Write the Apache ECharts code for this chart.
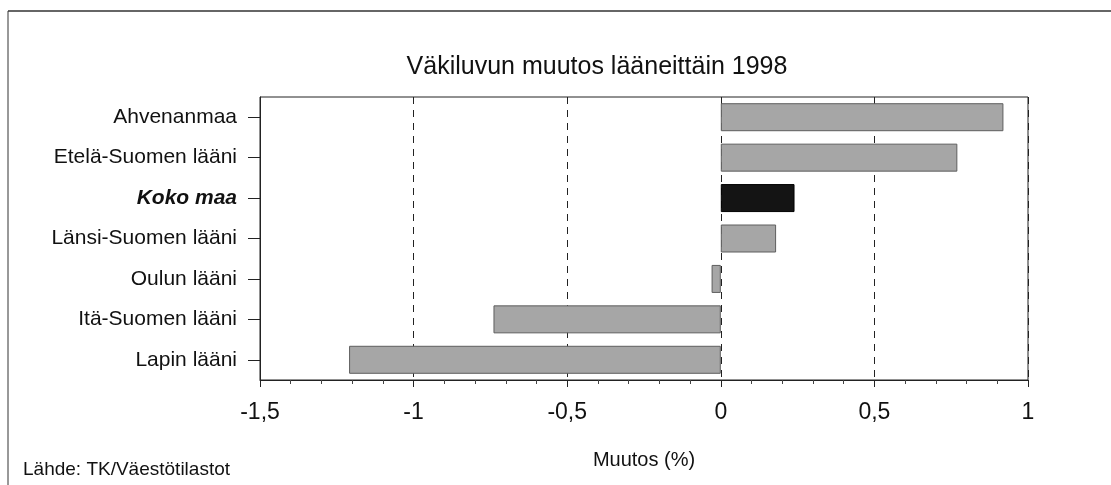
<!DOCTYPE html>
<html>
<head>
<meta charset="utf-8">
<script src="https://cdn.jsdelivr.net/npm/echarts@6/dist/echarts.min.js"></script>
<style>
  html, body { margin: 0; padding: 0; background: #fff; }
  #chart { width: 1111px; height: 485px; }
</style>
</head>
<body>
<div id="chart"></div>
<script>
// Population change by province, 1998 (%)
const regions = ['Ahvenanmaa', 'Etelä-Suomen lääni', 'Koko maa', 'Länsi-Suomen lääni', 'Oulun lääni', 'Itä-Suomen lääni', 'Lapin lääni'];
const changes = [0.92, 0.77, 0.24, 0.18, -0.03, -0.74, -1.21];
const highlighted = 'Koko maa';
const xTicks = [-1.5, -1, -0.5, 0, 0.5, 1];

const FONT = '"Liberation Sans", Arial, sans-serif';
const chart = echarts.init(document.getElementById('chart'), null, { renderer: 'canvas' });

chart.setOption({
  backgroundColor: '#ffffff',
  animation: false,
  title: {
    text: 'Väkiluvun muutos lääneittäin 1998',
    left: 592, top: 50, textAlign: 'center',
    textStyle: { fontFamily: FONT, fontSize: 25, fontWeight: 'normal', color: '#111' }
  },
  grid: { left: 260, right: 83, top: 97, bottom: 105, show: true, borderColor: '#222', borderWidth: 1 },
  xAxis: {
    type: 'value',
    min: xTicks[0], max: xTicks[xTicks.length - 1], interval: 0.5,
    axisLine: { show: true, lineStyle: { color: '#222', width: 1 } },
    axisTick: { show: true, length: 7, lineStyle: { color: '#222' } },
    minorTick: { show: true, splitNumber: 5, length: 4, lineStyle: { color: '#444' } },
    splitLine: { show: true, lineStyle: { color: '#222', type: [7, 6], width: 1 } },
    axisLabel: {
      margin: 21, fontFamily: FONT, fontSize: 23, color: '#111',
      formatter: v => String(v).replace('.', ',')
    },
    name: 'Muutos (%)', nameLocation: 'middle', nameGap: 70,
    nameTextStyle: { fontFamily: FONT, fontSize: 20, color: '#111' }
  },
  yAxis: {
    type: 'category', inverse: true, data: regions,
    axisLine: { show: true, onZero: false, lineStyle: { color: '#222', width: 1 } },
    axisTick: { show: true, alignWithLabel: true, length: 12, lineStyle: { color: '#222' } },
    axisLabel: {
      margin: 23, fontFamily: FONT, fontSize: 21, color: '#111',
      formatter: v => v === highlighted ? '{hl|' + v + '}' : v,
      rich: { hl: { fontFamily: FONT, fontSize: 21, fontWeight: 'bold', fontStyle: 'italic', color: '#111' } }
    }
  },
  series: [{
    type: 'bar',
    barWidth: 28,
    data: regions.map((r, i) => ({
      value: changes[i],
      itemStyle: r === highlighted
        ? { color: '#141414', borderColor: '#000', borderWidth: 1 }
        : { color: '#a6a6a6', borderColor: '#5e5e5e', borderWidth: 1 }
    }))
  }],
  graphic: [
    { type: 'line', shape: { x1: 8, y1: 11, x2: 1111, y2: 11 }, style: { stroke: '#333', lineWidth: 1.5 } },
    { type: 'line', shape: { x1: 8, y1: 11, x2: 8, y2: 485 }, style: { stroke: '#333', lineWidth: 1 } },
    { type: 'text', left: 23, top: 460, style: { text: 'Lähde: TK/Väestötilastot', font: '19px ' + FONT, fill: '#111' } }
  ]
});
</script>
</body>
</html>
